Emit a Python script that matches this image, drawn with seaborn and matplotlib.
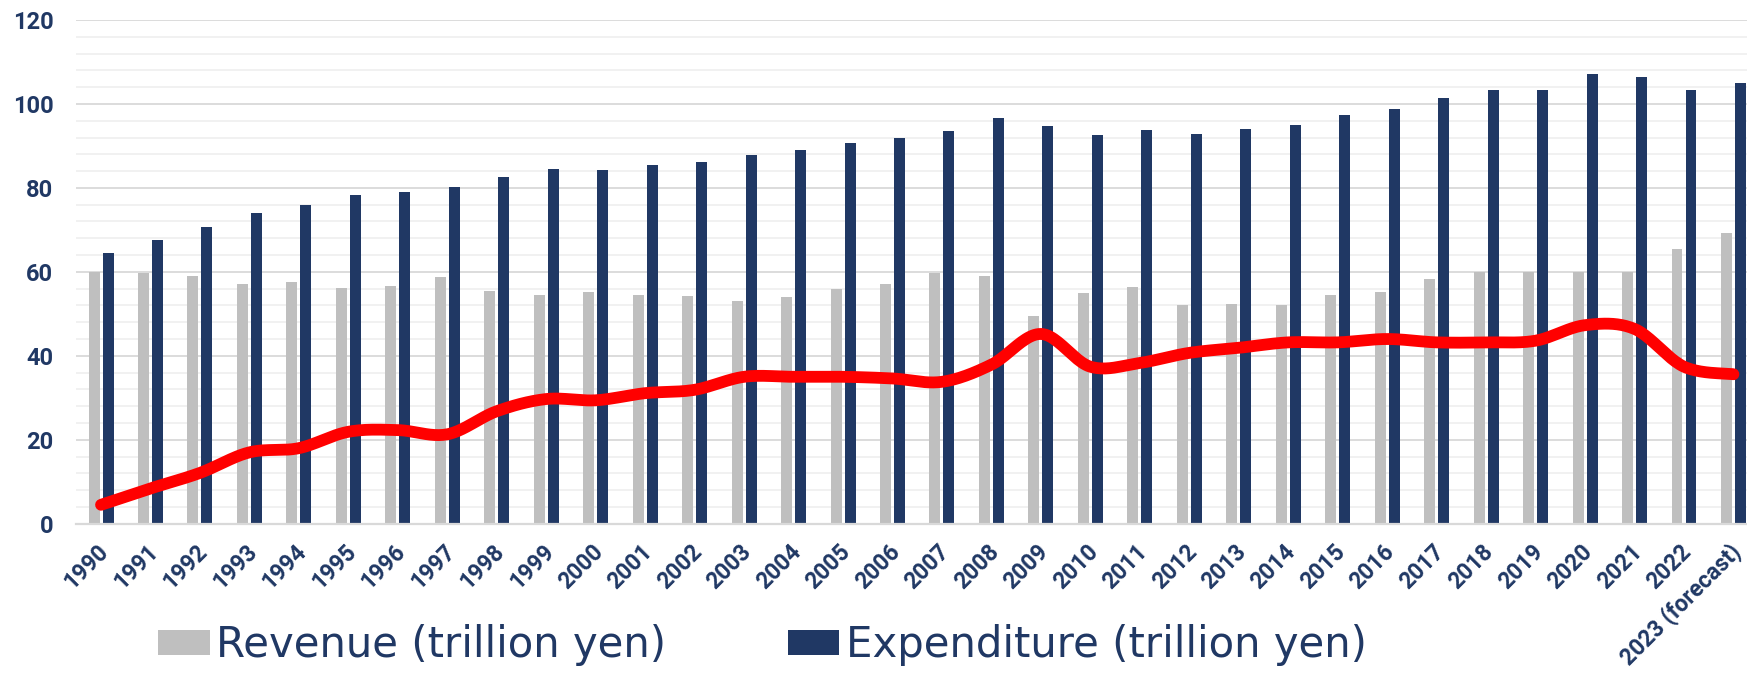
import numpy as np
import pandas as pd
import matplotlib
matplotlib.use("Agg")
import matplotlib.pyplot as plt
import matplotlib.transforms as mtransforms
import seaborn as sns

years = [str(y) for y in range(1990, 2023)] + ["2023 (forecast)"]
revenue = [60.0, 59.8, 59.0, 57.1, 57.7, 56.2, 56.7, 58.8, 55.4, 54.6, 55.2, 54.6,
           54.3, 53.1, 54.0, 55.8, 57.2, 59.7, 59.0, 49.6, 54.9, 56.3, 52.1, 52.3,
           52.1, 54.5, 55.2, 58.4, 59.9, 59.9, 59.9, 59.9, 65.5, 69.3]
expenditure = [64.4, 67.7, 70.6, 74.1, 76.0, 78.3, 79.1, 80.3, 82.6, 84.6, 84.3, 85.4,
               86.1, 87.9, 89.0, 90.8, 91.9, 93.5, 96.6, 94.8, 92.6, 93.9, 92.8, 94.1,
               95.1, 97.4, 98.9, 101.4, 103.4, 103.4, 107.2, 106.5, 103.4, 105.0]
gap_line = [4.5, 8.4, 12.1, 17.0, 18.0, 21.9, 22.3, 21.3, 26.8, 29.7, 29.4, 31.1,
            31.9, 35.0, 35.0, 35.0, 34.6, 33.8, 37.9, 45.2, 37.4, 38.3, 40.7, 41.9,
            43.2, 43.2, 44.0, 43.2, 43.2, 43.6, 47.3, 46.4, 37.4, 35.6]
series_names = ["Revenue (trillion yen)", "Expenditure (trillion yen)"]
y_ticks = [0, 20, 40, 60, 80, 100, 120]

NAVY = "#203864"
GREY = "#bfbfbf"
RED = "#ff0000"

df = pd.DataFrame({
    "year": years * 2,
    "value": revenue + expenditure,
    "series": [series_names[0]] * len(years) + [series_names[1]] * len(years),
})

sns.set_style("white")
plt.rcParams["font.family"] = ["Roboto", "DejaVu Sans"]

W, H = 1747, 673
fig = plt.figure(figsize=(W / 100, H / 100), dpi=100)
left_px, right_px, top_px, bot_px = 76.3, 1758.2, 20.0, 523.7
ax = fig.add_axes([left_px / W, 1 - bot_px / H, (right_px - left_px) / W, (bot_px - top_px) / H])

sns.barplot(data=df, x="year", y="value", hue="series", order=years,
            hue_order=series_names, palette=[GREY, NAVY], width=0.566, gap=0.215,
            ax=ax, legend=True, saturation=1, edgecolor="none")


def smooth_curve(xv, yv, n=24):
    pts = np.column_stack([xv, yv]).astype(float)
    P = np.vstack([pts[0], pts, pts[-1]])
    t = np.linspace(0, 1, n)[:, None]
    segs = []
    for i in range(1, len(P) - 2):
        p0, p1, p2, p3 = P[i - 1], P[i], P[i + 1], P[i + 2]
        c1 = p1 + (p2 - p0) / 6.0
        c2 = p2 - (p3 - p1) / 6.0
        b = ((1 - t) ** 3) * p1 + 3 * ((1 - t) ** 2) * t * c1 + 3 * (1 - t) * t ** 2 * c2 + t ** 3 * p2
        segs.append(b if i == 1 else b[1:])
    c = np.vstack(segs)
    return c[:, 0], c[:, 1]


sx, sy = smooth_curve(np.arange(len(years)), gap_line)
sns.lineplot(x=sx, y=sy, sort=False, estimator=None, color=RED, linewidth=8.5,
             solid_capstyle="round", ax=ax, legend=False, zorder=5)

ax.set_xlim(-0.5, len(years) - 0.5)
ax.set_ylim(0, 120)
ax.set_yticks(y_ticks)
ax.set_yticks(np.arange(0, 121, 4), minor=True)
ax.set_axisbelow(True)
ax.grid(axis="y", which="major", color="#d9d9d9", linewidth=1.3)
ax.grid(axis="y", which="minor", color="#f0f0f0", linewidth=1.3)
ax.grid(axis="x", visible=False)
for s in ["top", "right", "left"]:
    ax.spines[s].set_visible(False)
ax.spines["bottom"].set_color("#d9d9d9")
ax.spines["bottom"].set_linewidth(1.6)
ax.set_xlabel("")
ax.set_ylabel("")

ax.tick_params(axis="y", which="both", length=0, pad=16.5, labelsize=17, labelcolor=NAVY)
ax.tick_params(axis="x", which="both", length=0, pad=17.5, labelsize=16.5, labelcolor=NAVY)
for lab in ax.get_yticklabels():
    lab.set_fontweight("bold")
offset = mtransforms.ScaledTranslation(4 / 100, 0, fig.dpi_scale_trans)
for lab in ax.get_xticklabels():
    lab.set_fontweight("bold")
    lab.set_rotation(45)
    lab.set_ha("right")
    lab.set_va("center")
    lab.set_rotation_mode("anchor")
    lab.set_transform(lab.get_transform() + offset)

handles, labels = ax.get_legend_handles_labels()
ax.get_legend().remove()
fs = 30.2
fig.legend(handles[:2], labels[:2], loc="center left",
           bbox_to_anchor=(158 / W, 1 - 645 / H), ncol=2, frameon=False,
           handlelength=1.23, handleheight=0.54, handletextpad=0.15,
           columnspacing=2.9, borderpad=0, borderaxespad=0,
           prop={"family": ["DejaVu Sans"], "size": fs}, labelcolor=NAVY)

fig.savefig("out.png", dpi=100)
